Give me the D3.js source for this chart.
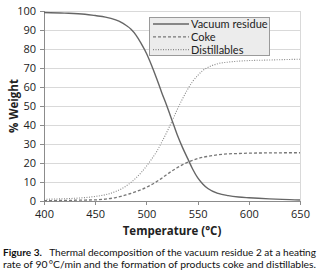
<!DOCTYPE html>
<html><head><meta charset="utf-8">
<script src="https://cdn.jsdelivr.net/npm/d3@7"></script>
<style>body{margin:0;background:#fff}svg{display:block}</style>
</head><body>
<script>
const temps = [400,420,440,450,460,470,475,480,485,490,495,500,505,510,515,520,525,530,535,540,545,550,555,560,570,580,590,600,620,640,650];
const vacuumResidue = [99.2,98.9,98.3,97.6,96.8,95.3,94.2,92.5,90.4,87.2,82.8,77.8,71.5,64.5,57,50,42.5,35,28.5,22.7,17,12.3,9,6.6,4,2.8,2.1,1.7,1.1,0.7,0.5];
const coke = [0.2,0.3,0.5,0.6,1.0,1.8,2.4,3.2,4.0,5.0,6.0,7.2,8.6,10.2,12.0,14.0,15.8,17.5,19.0,20.3,21.4,22.3,23.0,23.5,24.3,24.8,25.0,25.2,25.3,25.4,25.4];
const distillables = [0.9,1.2,1.8,2.4,3.3,5.0,6.2,7.8,9.8,12.2,15.0,18.3,22.0,26,31,36.3,42,48,53.5,58.5,62.8,66,68.6,70.3,72.3,73.1,73.6,73.9,74.2,74.5,74.6];
const seriesNames = ["Vacuum residue","Coke","Distillables"];
const xTicks = [400,450,500,550,600,650];
const yTicks = [0,10,20,30,40,50,60,70,80,90,100];

const W=321,H=276;
const svg=d3.select("body").append("svg").attr("width",W).attr("height",H);
const x=d3.scaleLinear().domain([400,650]).range([44,300]);
const y=d3.scaleLinear().domain([0,100]).range([201,11]);
const font="'Open Sans', sans-serif";

// gridlines
svg.append("g").selectAll("line").data(yTicks.filter(d=>d>0)).join("line")
  .attr("x1",x(400)).attr("x2",x(650)).attr("y1",d=>y(d)).attr("y2",d=>y(d))
  .attr("stroke","#d9d9d9").attr("stroke-width",1).attr("shape-rendering","crispEdges");
svg.append("line").attr("x1",x(650)).attr("x2",x(650)).attr("y1",y(100)).attr("y2",y(0))
  .attr("stroke","#d9d9d9").attr("shape-rendering","crispEdges");

// axes
const gx=svg.append("g").attr("transform",`translate(0,${y(0)})`)
  .call(d3.axisBottom(x).tickValues(xTicks).tickSize(4).tickPadding(5));
const gy=svg.append("g").attr("transform",`translate(${x(400)},0)`)
  .call(d3.axisLeft(y).tickValues(yTicks).tickSize(4).tickPadding(4));
[gx,gy].forEach(g=>{
  g.selectAll("path,line").attr("stroke","#8c8c8c").attr("shape-rendering","crispEdges");
  g.selectAll("text").attr("font-family",font).attr("font-size",11).attr("fill","#222");
});

// lines
const styles=[{d:null,w:1.4,c:"#666"},{d:"3,2",w:1.3,c:"#777"},{d:"1,1.5",w:1.1,c:"#888"}];
const allData=[vacuumResidue,coke,distillables];
const line=d3.line().x((d,i)=>x(temps[i])).y(d=>y(d)).curve(d3.curveMonotoneX);
allData.forEach((arr,k)=>{
  svg.append("path").datum(arr).attr("d",line).attr("fill","none")
    .attr("stroke",styles[k].c).attr("stroke-width",styles[k].w)
    .attr("stroke-dasharray",styles[k].d);
});

// legend
const lg=svg.append("g");
lg.append("rect").attr("x",149.5).attr("y",17.5).attr("width",120).attr("height",38)
  .attr("fill","#ececec").attr("stroke","#9a9a9a");
seriesNames.forEach((n,k)=>{
  const yy=24+k*12.8;
  lg.append("line").attr("x1",153).attr("x2",189).attr("y1",yy).attr("y2",yy)
    .attr("stroke",styles[k].c).attr("stroke-width",styles[k].w).attr("stroke-dasharray",styles[k].d);
  lg.append("text").attr("x",191).attr("y",yy+4).text(n)
    .attr("font-family","Lato, sans-serif").attr("font-size",11).attr("fill","#222");
});

// axis titles
svg.append("text").attr("transform","translate(18,106) rotate(-90)").attr("text-anchor","middle")
  .attr("font-family",font).attr("font-size",11.5).attr("font-weight","bold").attr("fill","#222").text("% Weight");
svg.append("text").attr("x",172).attr("y",235).attr("text-anchor","middle")
  .attr("font-family",font).attr("font-size",11.5).attr("font-weight","bold").attr("fill","#222").text("Temperature (°C)");

// caption
const cap=svg.append("g").attr("font-family","Lato, sans-serif").attr("font-size",10.2).attr("fill","#111");
const t1=cap.append("text").attr("x",3).attr("y",256).attr("textLength",313).attr("lengthAdjust","spacingAndGlyphs");
t1.append("tspan").attr("font-weight","bold").text("Figure 3.");
t1.append("tspan").text("\u2002 Thermal decomposition of the vacuum residue 2 at a heating");
cap.append("text").attr("x",3).attr("y",268).attr("textLength",313).attr("lengthAdjust","spacingAndGlyphs")
  .text("rate of 90\u2009°C/min and the formation of products coke and distillables.");
</script>
</body></html>
